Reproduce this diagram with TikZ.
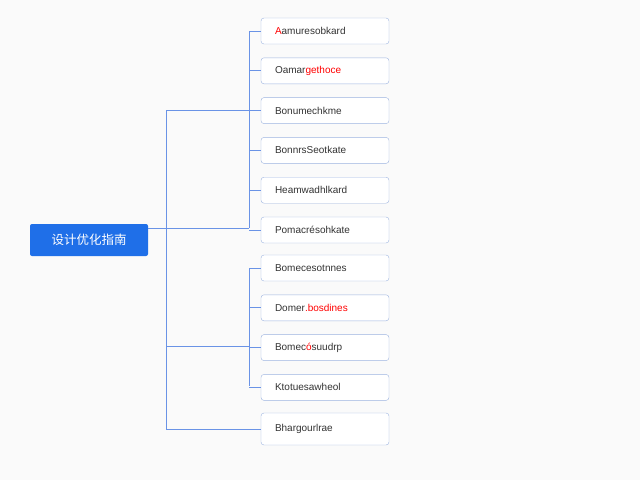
\documentclass[tikz,border=0pt]{standalone}
\usepackage{fontspec}
\setmainfont{Liberation Sans}
\newfontfamily\cjk{Noto Sans CJK SC}
\usetikzlibrary{positioning}
\definecolor{lineColor}{HTML}{6A93E6}
\definecolor{boxColor}{HTML}{9DB4E0}
\definecolor{rootColor}{HTML}{1F6FE8}
\tikzset{
  leaf/.style={draw=boxColor,rounded corners=3pt,minimum width=128pt,minimum height=26pt,
    inner sep=0pt,font=\fontsize{10}{10}\selectfont,text=black!80,fill=white,
    text width=100pt,align=left},
  root/.style={fill=rootColor,rounded corners=2pt,minimum width=118pt,minimum height=32pt,
    text=white,font=\cjk\fontsize{12.5}{12.5}\selectfont},
  link/.style={draw=lineColor,line width=0.7pt}
}
\begin{document}
\begin{tikzpicture}[x=1pt,y=-1pt]
  \fill[white!96!gray] (0,0) rectangle (640,480);
  \useasboundingbox (0,0) rectangle (640,480);
  \node[root] (root) at (89,240) {设计优化指南};
  % first group
  \node[leaf] (a1) at (325,31) {\textcolor{red}{A}amuresobkard};
  \node[leaf,below=13.4pt of a1] (a2) {Oamar\textcolor{red}{gethoce}};
  \node[leaf,below=13.4pt of a2] (a3) {Bonumechkme};
  \node[leaf,below=13.4pt of a3] (a4) {BonnrsSeotkate};
  \node[leaf,below=13.4pt of a4] (a5) {Heamwadhlkard};
  \node[leaf,below=13.4pt of a5] (a6) {Pomacrésohkate};
  % second group
  \node[leaf] (b1) at (325,268) {Bomecesotnnes};
  \node[leaf,below=13.4pt of b1] (b2) {Domer\textcolor{red}{.bosdines}};
  \node[leaf,below=13.4pt of b2] (b3) {Bomec\textcolor{red}{ó}suudrp};
  \node[leaf,below=13.4pt of b3] (b4) {Ktotuesawheol};
  \node[leaf,minimum height=32pt] (c1) at (325,429) {Bhargourlrae};
  % connectors
  \coordinate (t1) at (166,110);
  \coordinate (t2) at (166,346);
  \coordinate (t3) at (166,429);
  \draw[link] (root.east |- 0,228) -- (249,228);
  \draw[link] (t1) -- (t3) -- (c1.west);
  \draw[link] (t1) -- (249,110);
  \draw[link] (t2) -- (249,346);
  \draw[link] (249,31) -- (249,228);
  \draw[link] (249,268) -- (249,386);
  \foreach \n in {a1,a2,a3,a4,a5,a6,b1,b2,b3,b4}
    \draw[link] (\n.west) -- ++(-12,0);
\end{tikzpicture}
\end{document}
